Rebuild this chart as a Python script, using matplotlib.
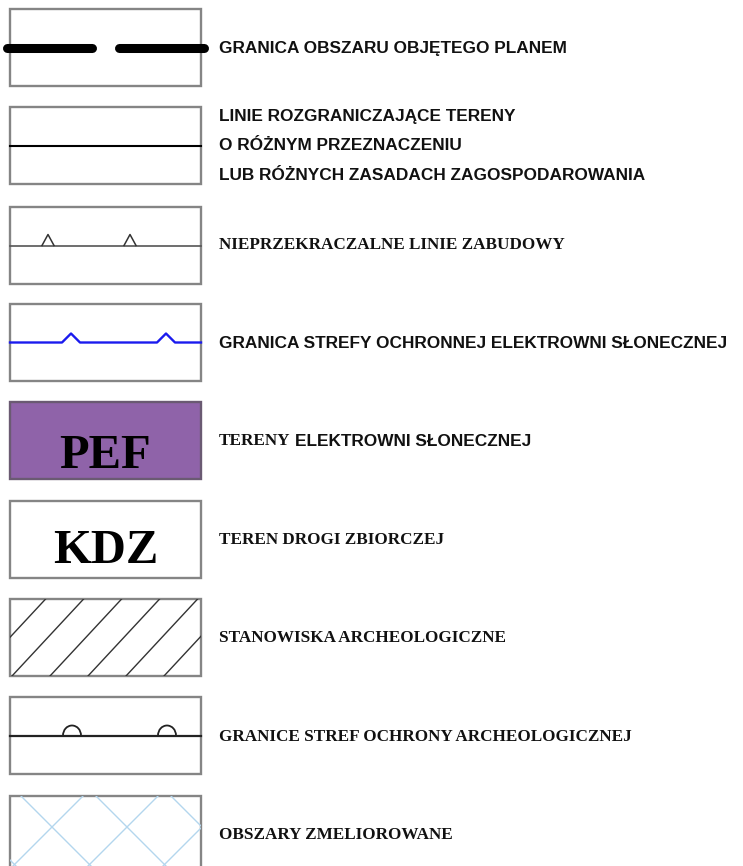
import numpy as np
import matplotlib.pyplot as plt
from matplotlib.patches import Rectangle, Arc

# legend entries (top to bottom)
labels = [
    "GRANICA OBSZARU OBJĘTEGO PLANEM",
    "LINIE ROZGRANICZAJĄCE TERENY\nO RÓŻNYM PRZEZNACZENIU\nLUB RÓŻNYCH ZASADACH ZAGOSPODAROWANIA",
    "NIEPRZEKRACZALNE LINIE ZABUDOWY",
    "GRANICA STREFY OCHRONNEJ ELEKTROWNI SŁONECZNEJ",
    "TERENY",
    "TEREN DROGI ZBIORCZEJ",
    "STANOWISKA ARCHEOLOGICZNE",
    "GRANICE STREF OCHRONY ARCHEOLOGICZNEJ",
    "OBSZARY ZMELIOROWANE",
]
label_fonts = ["sans", "sans", "serif", "sans", "serif", "serif", "serif", "serif", "serif"]
label_tail = "ELEKTROWNI SŁONECZNEJ"  # sans part of entry 5
box_tops = [9, 107, 207, 304, 402, 501, 599, 697, 796]
label_y = [48, 146, 245, 343, 441, 540, 638, 737, 835]
box_codes = {4: "PEF", 5: "KDZ"}

W, H = 743, 866
fig = plt.figure(figsize=(W / 100, H / 100), dpi=100)
ax = fig.add_axes([0, 0, 1, 1])
ax.set_xlim(0, W)
ax.set_ylim(H, 0)
ax.axis("off")

bx0, bx1, bh = 10, 201, 77
edge = "#858585"
fam = {"sans": "Liberation Sans", "serif": "Liberation Serif"}
code_base = {4: 66, 5: 62}

for i, top in enumerate(box_tops):
    mid = top + bh / 2
    fc = "#8f63a9" if i == 4 else "white"
    ec = "#6a5a72" if i == 4 else edge
    box = Rectangle((bx0, top), bx1 - bx0, bh, facecolor=fc, edgecolor=ec, lw=1.7, zorder=1)
    ax.add_patch(box)

    if i == 0:
        ax.plot([7, 92], [mid, mid], color="black", lw=6.5, solid_capstyle="round", zorder=3)
        ax.plot([119, 204], [mid, mid], color="black", lw=6.5, solid_capstyle="round", zorder=3)
    elif i == 1:
        ax.plot([bx0, bx1], [mid, mid], color="black", lw=1.5, zorder=3)
    elif i == 2:
        ax.plot([bx0, bx1], [mid, mid], color="#555555", lw=1.2, zorder=3)
        for cx in [48, 130]:
            ax.plot([cx - 6, cx, cx + 6], [mid, mid - 11, mid], color="#333333", lw=1.1, zorder=3)
    elif i == 3:
        xs, ys = [bx0], [mid]
        for cx in [71, 166]:
            xs += [cx - 9, cx, cx + 9]
            ys += [mid, mid - 9, mid]
        xs.append(bx1)
        ys.append(mid)
        ax.plot(xs, ys, color="#1a1aee", lw=1.7, zorder=3)
    elif i in box_codes:
        ax.text((bx0 + bx1) / 2, top + code_base[i], box_codes[i], ha="center", va="baseline",
                fontsize=35, fontweight="bold", family="Liberation Serif", color="black", zorder=3)
    elif i == 6:
        for k in range(-3, 6):
            x_bot = 12 + 38 * k
            ln, = ax.plot([x_bot, x_bot + bh * 0.93], [top + bh, top], color="#333333", lw=1.0, zorder=2)
            ln.set_clip_path(box)
    elif i == 7:
        ax.plot([bx0, bx1], [mid, mid], color="#222222", lw=1.6, zorder=3)
        for cx in [72, 167]:
            ax.add_patch(Arc((cx, mid), 18, 20, theta1=180, theta2=360, color="#222222", lw=1.3, zorder=3))
    elif i == 8:
        for k in range(-4, 5):
            x0 = 52 + 75 * k
            for d in (1, -1):
                ln, = ax.plot([x0 - d * 31, x0 - d * 31 + d * 200], [top, top + 200],
                              color="#b3d6ee", lw=1.0, zorder=2)
                ln.set_clip_path(box)

# labels
tx = 219
for i, (lab, f, y) in enumerate(zip(labels, label_fonts, label_y)):
    size = 12.4 if f == "sans" else 12.3
    if i == 1:
        for j, line in enumerate(lab.split("\n")):
            ax.text(tx, 117 + 29 * j, line, ha="left", va="center", fontsize=size,
                    fontweight="bold", family=fam[f], color="#111111")
        continue
    t = ax.text(tx, y, lab, ha="left", va="center", fontsize=size,
                fontweight="bold", family=fam[f], color="#111111")
    if i == 4:
        ax.annotate(label_tail, xy=(1, 0.5), xycoords=t, xytext=(3.5, 0), textcoords="offset points",
                    ha="left", va="center", fontsize=12.4, fontweight="bold",
                    family=fam["sans"], color="#111111")

fig.savefig("out.png", dpi=100, facecolor="white")
